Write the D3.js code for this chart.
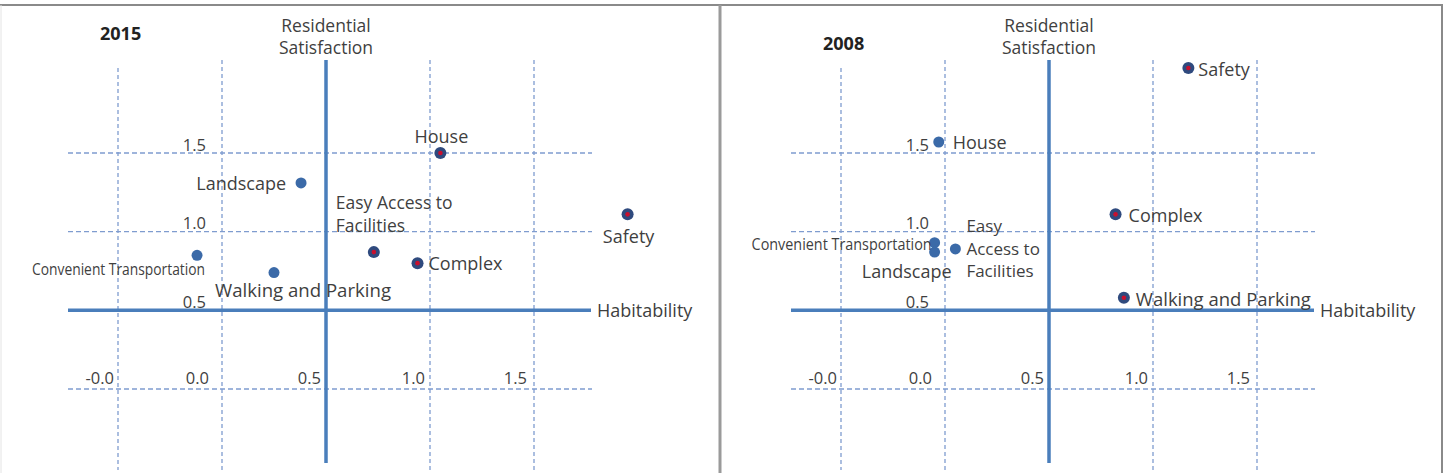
<!DOCTYPE html>
<html>
<head>
<meta charset="utf-8">
<script src="https://cdn.jsdelivr.net/npm/d3@7"></script>
<style>
  body { margin: 0; background: #fff; }
  text { font-family: "Open Sans", "Noto Sans", sans-serif; fill: #3f3f3f; }
</style>
</head>
<body>
<div id="my_dataviz"></div>
<script>
// data
const categories = ["House", "Landscape", "Safety", "Easy Access to Facilities", "Complex", "Convenient Transportation", "Walking and Parking"];
const habit2015 = [1.05, 0.38, 1.95, 0.73, 0.94, -0.12, 0.25];
const satis2015 = [1.50, 1.31, 1.11, 0.87, 0.80, 0.85, 0.74];
const mark2015  = [true, false, true, true, true, false, false];
const habit2008 = [-0.03, -0.05, 1.17, 0.05, 0.82, -0.05, 0.86];
const satis2008 = [1.57, 0.87, 2.04, 0.89, 1.11, 0.93, 0.58];
const mark2008  = [false, false, true, false, true, false, true];

const xTicks = [-0.5, 0, 0.5, 1.0, 1.5];
const xTickLabels = ["-0.0", "0.0", "0.5", "1.0", "1.5"];
const yTicks = [0.5, 1.0, 1.5];
const yTickLabels = ["0.5", "1.0", "1.5"];
const yGrid = [0, 1.0, 1.5];
const crossAt = 0.5;

// label placement per category: lines, dx, dy (first line), anchor, font size, fitted width
const layout2015 = [
  {lines: ["House"], dx: 1, dy: -17, anchor: "middle"},
  {lines: ["Landscape"], dx: -15, dy: 0, anchor: "end"},
  {lines: ["Safety"], dx: 1, dy: 22, anchor: "middle"},
  {lines: ["Easy Access to", "Facilities"], dx: -38, dy: -50, anchor: "start", size: 17.5},
  {lines: ["Complex"], dx: 11, dy: 0, anchor: "start"},
  {lines: ["Convenient Transportation"], dx: 8, dy: 14, anchor: "end", size: 16, fit: 173},
  {lines: ["Walking and Parking"], dx: -59, dy: 17, anchor: "start", fit: 176}
];
const layout2008 = [
  {lines: ["House"], dx: 14, dy: 0, anchor: "start"},
  {lines: ["Landscape"], dx: 17, dy: 19, anchor: "end"},
  {lines: ["Safety"], dx: 10, dy: 1, anchor: "start"},
  {lines: ["Easy", "Access to", "Facilities"], dx: 11, dy: -23, anchor: "start", size: 17},
  {lines: ["Complex"], dx: 13, dy: 1, anchor: "start"},
  {lines: ["Convenient Transportation"], dx: -3, dy: 1, anchor: "end", size: 15.5, fit: 180},
  {lines: ["Walking and Parking"], dx: 12, dy: 1, anchor: "start", fit: 175}
];
const xLabelDx = [-4, -13, -5, -5, -7];

const W = 1449, H = 473;
const svg = d3.select("#my_dataviz")
  .append("svg")
    .attr("width", W)
    .attr("height", H);

// frame
svg.append("line").attr("x1", 0).attr("x2", 1443).attr("y1", 5).attr("y2", 5).attr("stroke", "#8a8a8a").attr("stroke-width", 2);
svg.append("line").attr("x1", 1).attr("x2", 1).attr("y1", 5).attr("y2", H).attr("stroke", "#e4e4e4").attr("stroke-width", 1);
svg.append("line").attr("x1", 720).attr("x2", 720).attr("y1", 5).attr("y2", H).attr("stroke", "#9a9a9a").attr("stroke-width", 3);
svg.append("line").attr("x1", 1442).attr("x2", 1442).attr("y1", 5).attr("y2", H).attr("stroke", "#8a8a8a").attr("stroke-width", 2);

function drawPanel(offset, title, titleY, habit, satis, mark, layout) {
  const g = svg.append("g").attr("transform", `translate(${offset},0)`);

  const x = d3.scaleLinear().domain([-0.5, 1.5]).range([118, 534]);
  const y = d3.scaleLinear().domain([0, 1.5]).range([389, 153]);

  const gridColor = "#7f9ccf";
  // vertical dashed grid
  g.selectAll(".vgrid")
    .data(xTicks.filter(d => d !== crossAt))
    .join("line")
      .attr("x1", d => x(d)).attr("x2", d => x(d))
      .attr("y1", (d, i) => i === 0 ? 68 : 60).attr("y2", 470)
      .attr("stroke", gridColor).attr("stroke-width", 1.3)
      .attr("stroke-dasharray", "4,3");
  // horizontal dashed grid
  g.selectAll(".hgrid")
    .data(yGrid)
    .join("line")
      .attr("x1", 68).attr("x2", 592)
      .attr("y1", d => y(d)).attr("y2", d => y(d))
      .attr("stroke", gridColor).attr("stroke-width", 1.3)
      .attr("stroke-dasharray", "5,3");

  // main axes crossing at 0.5 / 0.5
  const axisColor = "#4a7ebb";
  g.append("line")
    .attr("x1", x(crossAt)).attr("x2", x(crossAt))
    .attr("y1", 60).attr("y2", 463)
    .attr("stroke", axisColor).attr("stroke-width", 3.5);
  g.append("line")
    .attr("x1", 68).attr("x2", 591)
    .attr("y1", y(crossAt)).attr("y2", y(crossAt))
    .attr("stroke", axisColor).attr("stroke-width", 3.5);

  // tick labels
  g.selectAll(".ytick")
    .data(yTicks)
    .join("text")
      .attr("x", x(0) - 16)
      .attr("y", d => y(d) - 9)
      .attr("text-anchor", "end")
      .attr("dominant-baseline", "central")
      .style("font-size", "16.5px")
      .text((d, i) => yTickLabels[i]);
  g.selectAll(".xtick")
    .data(xTicks)
    .join("text")
      .attr("x", (d, i) => x(d) + xLabelDx[i])
      .attr("y", y(0) - 12)
      .attr("text-anchor", "end")
      .attr("dominant-baseline", "central")
      .style("font-size", "16.5px")
      .text((d, i) => xTickLabels[i]);

  // axis titles
  g.append("text").attr("x", x(crossAt)).attr("y", 25)
    .attr("text-anchor", "middle").attr("dominant-baseline", "central")
    .style("font-size", "17.5px").text("Residential");
  g.append("text").attr("x", x(crossAt)).attr("y", 47)
    .attr("text-anchor", "middle").attr("dominant-baseline", "central")
    .style("font-size", "17.5px").text("Satisfaction");
  g.append("text").attr("x", 597).attr("y", y(crossAt))
    .attr("dominant-baseline", "central")
    .style("font-size", "18px").text("Habitability");

  // panel title
  g.append("text").attr("x", 100).attr("y", titleY)
    .attr("dominant-baseline", "central")
    .style("font-size", "18px").style("font-weight", "bold").style("fill", "#222")
    .text(title);

  const pts = categories.map((c, i) => ({name: c, hx: habit[i], sy: satis[i], mark: mark[i], lay: layout[i]}));

  // points
  g.selectAll(".pt")
    .data(pts)
    .join("circle")
      .attr("cx", d => x(d.hx))
      .attr("cy", d => y(d.sy))
      .attr("r", d => d.mark ? 6 : 5.5)
      .attr("fill", d => d.mark ? "#2f4a7e" : "#3b6aa8");
  g.selectAll(".ptc")
    .data(pts.filter(d => d.mark))
    .join("circle")
      .attr("cx", d => x(d.hx))
      .attr("cy", d => y(d.sy))
      .attr("r", 2.3)
      .attr("fill", "#c8102e");

  // point labels
  pts.forEach(d => {
    d.lay.lines.forEach((ln, j) => {
      const t = g.append("text")
        .attr("x", x(d.hx) + d.lay.dx)
        .attr("y", y(d.sy) + d.lay.dy + j * 22.5)
        .attr("text-anchor", d.lay.anchor)
        .attr("dominant-baseline", "central")
        .style("font-size", (d.lay.size || 18) + "px")
        .text(ln);
      if (d.lay.fit) t.attr("textLength", d.lay.fit).attr("lengthAdjust", "spacingAndGlyphs");
    });
  });
}

drawPanel(0, "2015", 33, habit2015, satis2015, mark2015, layout2015);
drawPanel(723, "2008", 43, habit2008, satis2008, mark2008, layout2008);
</script>
</body>
</html>
